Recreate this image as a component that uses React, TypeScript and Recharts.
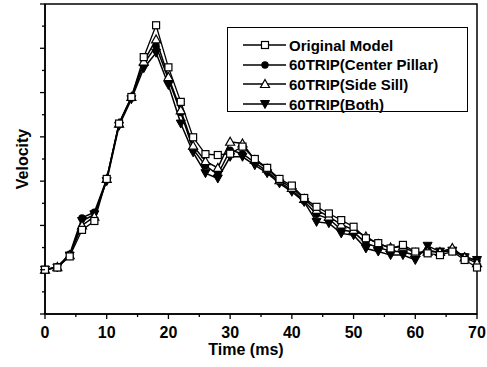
import React from 'react';
import { LineChart, Line, XAxis, YAxis, Legend, ReferenceArea } from 'recharts';

// time axis (ms), one sample every 2 ms
const timeMs = [0, 2, 4, 6, 8, 10, 12, 14, 16, 18, 20, 22, 24, 26, 28, 30, 32, 34, 36, 38, 40, 42, 44, 46, 48, 50, 52, 54, 56, 58, 60, 62, 64, 66, 68, 70];

// velocity (no units on the axis)
const originalModel = [1.0, 1.05, 1.3, 1.9, 2.1, 3.05, 4.3, 4.9, 5.8, 6.52, 5.57, 4.79, 3.99, 3.61, 3.59, 3.62, 3.78, 3.5, 3.3, 3.05, 2.9, 2.62, 2.42, 2.27, 2.12, 1.97, 1.71, 1.6, 1.48, 1.56, 1.41, 1.37, 1.33, 1.41, 1.22, 1.05];
const centerPillar = [1.0, 1.07, 1.35, 2.17, 2.3, 3.05, 4.3, 4.88, 5.65, 6.05, 5.3, 4.55, 3.72, 3.35, 3.15, 3.7, 3.62, 3.42, 3.22, 2.98, 2.8, 2.55, 2.25, 2.15, 1.9, 1.85, 1.6, 1.5, 1.42, 1.4, 1.33, 1.45, 1.38, 1.45, 1.3, 1.2];
const sideSill = [1.0, 1.06, 1.33, 2.0, 2.2, 3.05, 4.3, 4.9, 5.7, 6.2, 5.35, 4.6, 3.8, 3.45, 3.3, 3.89, 3.85, 3.48, 3.28, 3.02, 2.85, 2.6, 2.35, 2.2, 2.02, 1.9, 1.75, 1.58, 1.5, 1.52, 1.38, 1.41, 1.4, 1.49, 1.28, 1.15];
const bothTrip = [1.0, 1.05, 1.32, 2.1, 2.25, 3.0, 4.25, 4.85, 5.55, 5.9, 5.17, 4.3, 3.65, 3.18, 3.06, 3.55, 3.55, 3.36, 3.18, 2.95, 2.76, 2.53, 2.08, 2.05, 1.82, 1.78, 1.48, 1.41, 1.33, 1.33, 1.22, 1.54, 1.41, 1.43, 1.28, 1.22];

const xTicks = [0, 5, 10, 15, 20, 25, 30, 35, 40, 45, 50, 55, 60, 65, 70];
const yTicks = [0, 0.5, 1, 1.5, 2, 2.5, 3, 3.5, 4, 4.5, 5, 5.5, 6, 6.5, 7];

const legendNames = ['Original Model', '60TRIP(Center Pillar)', '60TRIP(Side Sill)', '60TRIP(Both)'];

const FONT = '"Liberation Sans", Arial, sans-serif';

const data = timeMs.map((t, i) => ({
  time: t,
  original: originalModel[i],
  center: centerPillar[i],
  side: sideSill[i],
  both: bothTrip[i],
}));

// marker shapes
const SquareMark = ({ cx, cy }: { cx: number; cy: number }) => (
  <rect x={cx - 3.5} y={cy - 3.5} width={7} height={7} fill="#fff" stroke="#000" strokeWidth={1.2} />
);
const CircleMark = ({ cx, cy }: { cx: number; cy: number }) => <circle cx={cx} cy={cy} r={3.7} fill="#000" />;
const TriUpMark = ({ cx, cy }: { cx: number; cy: number }) => (
  <path d={`M${cx},${cy - 4.5}L${cx + 4.5},${cy + 3.5}L${cx - 4.5},${cy + 3.5}Z`} fill="#fff" stroke="#000" strokeWidth={1.2} />
);
const TriDownMark = ({ cx, cy }: { cx: number; cy: number }) => (
  <path d={`M${cx},${cy + 4.5}L${cx + 4.5},${cy - 3.5}L${cx - 4.5},${cy - 3.5}Z`} fill="#000" stroke="#000" strokeWidth={1} />
);

const markers = [SquareMark, CircleMark, TriUpMark, TriDownMark];

const XTick = (props: any) => {
  const { x, y, payload } = props;
  const major = payload.value % 10 === 0;
  return (
    <g>
      <line x1={x} y1={y} x2={x} y2={y + (major ? 5 : 3)} stroke="#000" strokeWidth={1.3} />
      {major && (
        <text x={x} y={y + 18} textAnchor="middle" dominantBaseline="central" fontFamily={FONT} fontWeight="bold" fontSize={16} fill="#000">
          {payload.value}
        </text>
      )}
    </g>
  );
};

const YTick = (props: any) => {
  const { x, y, payload } = props;
  const major = payload.value % 1 === 0;
  return <line x1={x - (major ? 5 : 3)} y1={y} x2={x} y2={y} stroke="#000" strokeWidth={1.3} />;
};

const LegendBox = () => (
  <div
    style={{
      position: 'relative',
      width: 241,
      height: 85,
      boxSizing: 'border-box',
      border: '1.5px solid #000',
      background: '#fff',
      fontFamily: FONT,
      fontWeight: 'bold',
      fontSize: 15,
      color: '#000',
    }}
  >
    {legendNames.map((name, i) => {
      const Mark = markers[i];
      return (
        <div
          key={name}
          style={{ position: 'absolute', left: 0, top: 7 + i * 19.7, height: 20, display: 'flex', alignItems: 'center', whiteSpace: 'nowrap' }}
        >
          <svg width={58} height={20} style={{ display: 'block' }}>
            <line x1={15} y1={10} x2={58} y2={10} stroke="#000" strokeWidth={1.5} />
            <Mark cx={37} cy={10} />
          </svg>
          <span style={{ marginLeft: 3 }}>{name}</span>
        </div>
      );
    })}
  </div>
);

const App: React.FC = () => {
  return (
    <div style={{ position: 'absolute', left: 0, top: 0, width: 487, height: 367, background: '#fff' }}>
      <LineChart width={487} height={367} data={data} margin={{ top: 4, right: 10, bottom: 0, left: 0 }}>
        <XAxis
          dataKey="time"
          type="number"
          domain={[0, 70]}
          ticks={xTicks}
          interval={0}
          height={53}
          tickSize={0}
          tickMargin={0}
          tick={<XTick />}
          axisLine={{ stroke: '#000', strokeWidth: 1.5 }}
          label={{
            content: (p: any) => (
              <text
                x={p.viewBox.x + 201}
                y={p.viewBox.y + 35}
                textAnchor="middle"
                dominantBaseline="central"
                fontFamily={FONT}
                fontWeight="bold"
                fontSize={16}
                fill="#000"
              >
                Time (ms)
              </text>
            ),
          }}
        />
        <YAxis
          type="number"
          domain={[0, 7]}
          ticks={yTicks}
          interval={0}
          width={45}
          tickSize={0}
          tickMargin={0}
          tick={<YTick />}
          axisLine={{ stroke: '#000', strokeWidth: 1.5 }}
          label={{
            content: (p: any) => {
              const cx = p.viewBox.x + 22;
              const cy = p.viewBox.y + p.viewBox.height / 2;
              return (
                <text
                  x={cx}
                  y={cy}
                  transform={`rotate(-90 ${cx} ${cy})`}
                  textAnchor="middle"
                  dominantBaseline="central"
                  fontFamily={FONT}
                  fontWeight="bold"
                  fontSize={16}
                  fill="#000"
                >
                  Velocity
                </text>
              );
            },
          }}
        />
        <ReferenceArea x1={0} x2={70} y1={0} y2={7} fill="none" stroke="#000" strokeWidth={1.5} ifOverflow="visible" />
        <Legend
          layout="horizontal"
          align="center"
          verticalAlign="middle"
          wrapperStyle={{ left: 227, top: 27, width: 241, height: 85 }}
          content={() => <LegendBox />}
        />
        <Line
          dataKey="both"
          stroke="#000"
          strokeWidth={1.5}
          isAnimationActive={false}
          dot={(p: any) => <TriDownMark key={`b${p.index}`} cx={p.cx} cy={p.cy} />}
          activeDot={false}
        />
        <Line
          dataKey="center"
          stroke="#000"
          strokeWidth={1.5}
          isAnimationActive={false}
          dot={(p: any) => <CircleMark key={`c${p.index}`} cx={p.cx} cy={p.cy} />}
          activeDot={false}
        />
        <Line
          dataKey="side"
          stroke="#000"
          strokeWidth={1.5}
          isAnimationActive={false}
          dot={(p: any) => <TriUpMark key={`s${p.index}`} cx={p.cx} cy={p.cy} />}
          activeDot={false}
        />
        <Line
          dataKey="original"
          stroke="#000"
          strokeWidth={1.3}
          isAnimationActive={false}
          dot={(p: any) => <SquareMark key={`o${p.index}`} cx={p.cx} cy={p.cy} />}
          activeDot={false}
        />
      </LineChart>
    </div>
  );
};

export default App;
